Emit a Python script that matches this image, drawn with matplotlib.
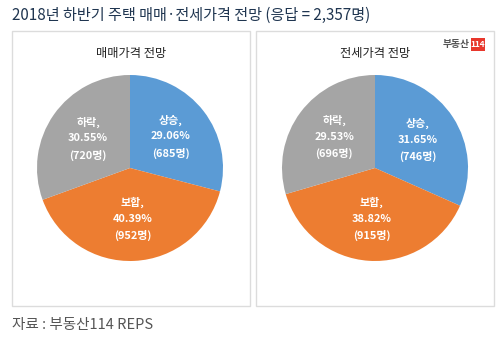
import matplotlib
matplotlib.use("Agg")
import matplotlib.pyplot as plt
from matplotlib.patches import Rectangle
import numpy as np

plt.rcParams['font.family'] = ['Noto Sans CJK KR', 'DejaVu Sans']

title = "2018년 하반기 주택 매매·전세가격 전망 (응답 = 2,357명)"
categories = ["상승", "보합", "하락"]
panel_titles = ["매매가격 전망", "전세가격 전망"]
sale_pct = [29.06, 40.39, 30.55]
sale_cnt = [685, 952, 720]
jeonse_pct = [31.65, 38.82, 29.53]
jeonse_cnt = [746, 915, 696]
colors = ["#5B9BD5", "#ED7D31", "#A5A5A5"]
source = "자료 : 부동산114 REPS"

W, H = 500, 340
fig = plt.figure(figsize=(W/100, H/100), dpi=100)
fig.patch.set_facecolor("white")

def px_axes(x, y, w, h):
    return fig.add_axes([x/W, 1-(y+h)/H, w/W, h/H])

bg = fig.add_axes([0, 0, 1, 1])
bg.set_xlim(0, W); bg.set_ylim(H, 0); bg.axis("off")
for x0 in (12, 256):
    bg.add_patch(Rectangle((x0, 31), 238, 275, fill=False, edgecolor="#DCDCDC", lw=1))
bg.text(12, 15, title, fontsize=10.9, color="#1F3550", va="center", ha="left")
bg.text(12, 325, source, fontsize=10.5, color="#555555", va="center", ha="left")
bg.text(131, 53, panel_titles[0], fontsize=8.8, color="#222222", va="center", ha="center")
bg.text(375, 53, panel_titles[1], fontsize=8.8, color="#222222", va="center", ha="center")
# logo
bg.text(470, 44, "부동산", fontsize=7, color="#555555", va="center", ha="right", fontweight="bold")
bg.add_patch(Rectangle((471, 38), 14, 13, facecolor="#E8372C", edgecolor="none"))
bg.text(478, 44.5, "114", fontsize=6, color="white", va="center", ha="center", fontweight="bold")

def draw_pie(cx, pcts, cnts):
    r = 93
    ax = px_axes(cx - r, 168 - r, 2*r, 2*r)
    wedges, _ = ax.pie(pcts, colors=colors, startangle=90, counterclock=False,
                       radius=1, wedgeprops=dict(linewidth=0))
    ax.set_xlim(-1, 1); ax.set_ylim(-1, 1); ax.set_aspect("equal")
    for w, cat, p, c in zip(wedges, categories, pcts, cnts):
        ang = np.deg2rad((w.theta1 + w.theta2) / 2)
        d = 0.55
        ax.text(d*np.cos(ang), d*np.sin(ang), f"{cat},\n{p:.2f}%\n({c}명)",
                ha="center", va="center", color="white", fontsize=7.9,
                fontweight="bold", linespacing=1.7)

draw_pie(130, sale_pct, sale_cnt)
draw_pie(375, jeonse_pct, jeonse_cnt)

fig.savefig("out.png", dpi=100, facecolor="white")
